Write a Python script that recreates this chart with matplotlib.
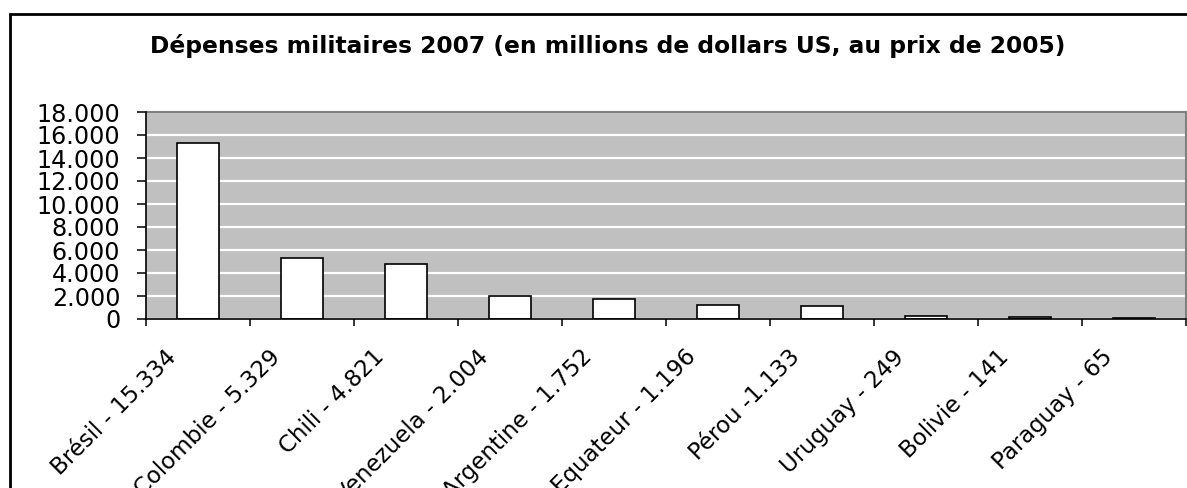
import matplotlib
matplotlib.use("Agg")
import matplotlib.pyplot as plt
import matplotlib.transforms as mtransforms
from matplotlib.patches import Rectangle
from matplotlib.ticker import FuncFormatter, FixedLocator

plt.rcParams['font.family'] = ['DejaVu Sans']

countries = ["Brésil", "Colombie", "Chili", "Venezuela", "Argentine",
             "Equateur", "Pérou", "Uruguay", "Bolivie", "Paraguay"]
labels = ["Brésil - 15.334", "Colombie - 5.329", "Chili - 4.821", "Venezuela - 2.004",
          "Argentine - 1.752", "Equateur - 1.196", "Pérou -1.133", "Uruguay - 249",
          "Bolivie - 141", "Paraguay - 65"]
values = [15334, 5329, 4821, 2004, 1752, 1196, 1133, 249, 141, 65]
title = "Dépenses militaires 2007 (en millions de dollars US, au prix de 2005)"

W, H = 1187, 488
fig = plt.figure(figsize=(W / 100, H / 100), dpi=100)

# outer chart frame (extends beyond the image on right/bottom)
fig.patches.append(Rectangle((10 / W, -0.1), 1.2, (H - 14) / H + 0.1,
                             transform=fig.transFigure, fill=False,
                             edgecolor='black', linewidth=2))

ax = fig.add_axes([146 / W, (H - 319) / H, (1186 - 146) / W, (319 - 112) / H])
ax.set_facecolor('#C0C0C0')

n = len(values)
x = list(range(n))
ax.bar(x, values, width=0.4, color='white', edgecolor='black', linewidth=1.2, zorder=3)

ax.set_xlim(-0.5, n - 0.5)
ax.set_ylim(0, 18000)
ax.set_yticks(range(0, 18001, 2000))
ax.yaxis.set_major_formatter(FuncFormatter(lambda v, p: f"{int(v):,}".replace(",", ".")))
ax.grid(axis='y', color='white', linewidth=1.6, zorder=1)
ax.set_axisbelow(True)

ax.tick_params(axis='y', direction='out', length=6.5, width=1.1, labelsize=17.2, pad=12, colors='black')

# category labels at centers, tick marks at boundaries
ax.set_xticks(x)
ax.set_xticklabels(labels, rotation=45, ha='right', va='top', fontsize=16.5)
ax.tick_params(axis='x', which='major', length=0, pad=19)
ax.xaxis.set_minor_locator(FixedLocator([i - 0.5 for i in range(n + 1)]))
ax.tick_params(axis='x', which='minor', direction='out', length=5, width=1.1)
offset = mtransforms.ScaledTranslation(-17 / 100, 0, fig.dpi_scale_trans)
for lab in ax.get_xticklabels():
    lab.set_transform(lab.get_transform() + offset)

for s in ['left', 'bottom']:
    ax.spines[s].set_color('black')
    ax.spines[s].set_linewidth(1.2)
for s in ['top', 'right']:
    ax.spines[s].set_color('#808080')
    ax.spines[s].set_linewidth(1.5)
ax.spines['left'].set_zorder(4)
ax.spines['bottom'].set_zorder(4)

fig.text(608 / W, (H - 46) / H, title, ha='center', va='center',
         fontsize=16.8, fontweight='bold')

fig.savefig("out.png", dpi=100)
